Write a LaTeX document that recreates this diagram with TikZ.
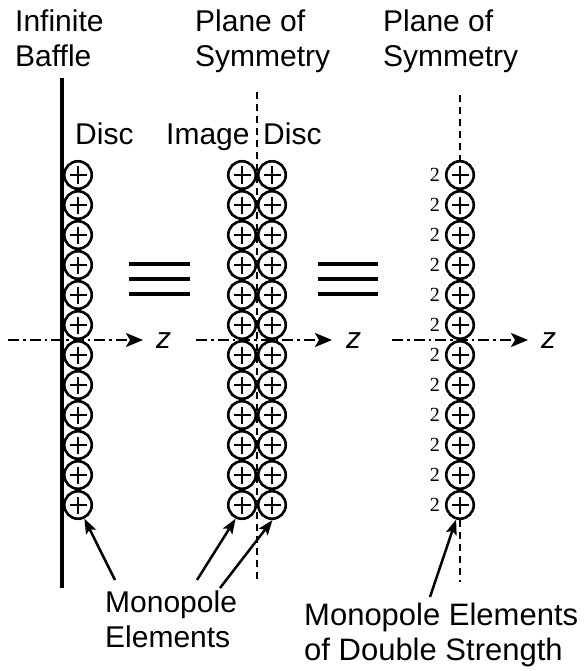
\documentclass[tikz,border=0pt]{standalone}
\usepackage{fontspec}
\setmainfont{Liberation Sans}
\newfontfamily\numfont{Liberation Serif}
\usetikzlibrary{arrows.meta}
\begin{document}
\begin{tikzpicture}[x=1pt,y=-1pt,
  lbl/.style={anchor=base west,inner sep=0pt,font=\fontsize{30}{36}\selectfont},
  mono/.style={circle,draw,line width=2.6pt,minimum size=27.5pt,inner sep=0pt,
    path picture={
      \draw[line width=2.3pt] ([xshift=-8.5pt]path picture bounding box.center) -- ([xshift=8.5pt]path picture bounding box.center);
      \draw[line width=2.3pt] ([yshift=-8.5pt]path picture bounding box.center) -- ([yshift=8.5pt]path picture bounding box.center);}},
  two/.style={anchor=east,inner sep=0pt,font=\numfont\fontsize{20}{22}\selectfont},
  axis/.style={line width=2.5pt,dash pattern=on 11pt off 4pt on 2.5pt off 4pt,-{Stealth[length=17pt,width=14pt,inset=4pt]}},
  plane/.style={line width=2.4pt,dash pattern=on 7pt off 5pt},
  equiv/.style={line width=3.5pt},
  pointer/.style={line width=2.5pt,-{Stealth[length=15pt,width=11pt,inset=3pt]}}]
\useasboundingbox (0,0) rectangle (587,671);

% headings
\node[lbl] (hb1) at (15,32) {Infinite};
\node[lbl] (hb2) at (15,67) {Baffle};
\node[lbl] (hp1) at (195,32) {Plane of};
\node[lbl] (hp2) at (195,67) {Symmetry};
\node[lbl] (hq1) at (383,32) {Plane of};
\node[lbl] (hq2) at (383,67) {Symmetry};
\node[lbl] (d1) at (75,145) {Disc};
\node[lbl] (im) at (166,145) {Image};
\node[lbl] (d2) at (263,145) {Disc};

% baffle and planes of symmetry
\coordinate (bt) at (62,78);  \coordinate (bb) at (62,588);
\draw[line width=4.5pt] (bt) -- (bb);
\coordinate (pt) at (257,92); \coordinate (pb) at (257,582);
\draw[plane] (pt) -- (pb);

% axes
\coordinate (a0) at (8,340);   \coordinate (a1) at (143,340);
\coordinate (b0) at (196,340); \coordinate (b1) at (332,340);
\coordinate (c0) at (392,340); \coordinate (c1) at (528,340);
\draw[axis] (a0) -- (a1);
\draw[axis] (b0) -- (b1);
\draw[axis] (c0) -- (c1);
\node[lbl,font=\fontsize{30}{36}\selectfont\itshape] (z1) at (156,348) {z};
\node[lbl,font=\fontsize{30}{36}\selectfont\itshape] (z2) at (346,348) {z};
\node[lbl,font=\fontsize{30}{36}\selectfont\itshape] (z3) at (541,348) {z};

% equivalence signs
\foreach \yy in {264,279,294} {
  \draw[equiv] (129,\yy) -- (190,\yy);
  \draw[equiv] (318,\yy) -- (378,\yy);
}

% monopole columns
\foreach \i in {1,...,12} {
  \node[mono] (L\i) at (78,{145+30*\i}) {};
  \node[mono] (I\i) at (242,{145+30*\i}) {};
  \node[mono] (D\i) at (272,{145+30*\i}) {};
  \node[mono] (R\i) at (460,{145+30*\i}) {};
  \node[two] (n\i) at ([xshift=-5pt]R\i.west) {2};
}
\coordinate (qt) at (460,95); \coordinate (qb) at (460,582);
\draw[plane] (qt) -- (R1.north);
\draw[plane] (R12.south) -- (qb);

% labels with pointers
\node[lbl] (m1) at (105,612) {Monopole};
\node[lbl] (m2) at (105,647) {Elements};
\node[lbl,font=\fontsize{31}{36}\selectfont] (m3) at (304,625) {Monopole Elements};
\node[lbl,font=\fontsize{31}{36}\selectfont] (m4) at (304,660) {of Double Strength};
\coordinate (s1) at (115,580);
\coordinate (s2) at (197,580);
\coordinate (s3) at (220,588);
\coordinate (s4) at (430,597);
\draw[pointer] (s1) -- (L12.-65);
\draw[pointer] (s2) -- (I12.-115);
\draw[pointer] (s3) -- (D12.-88);
\draw[pointer] (s4) -- (R12.-105);
\end{tikzpicture}
\end{document}
